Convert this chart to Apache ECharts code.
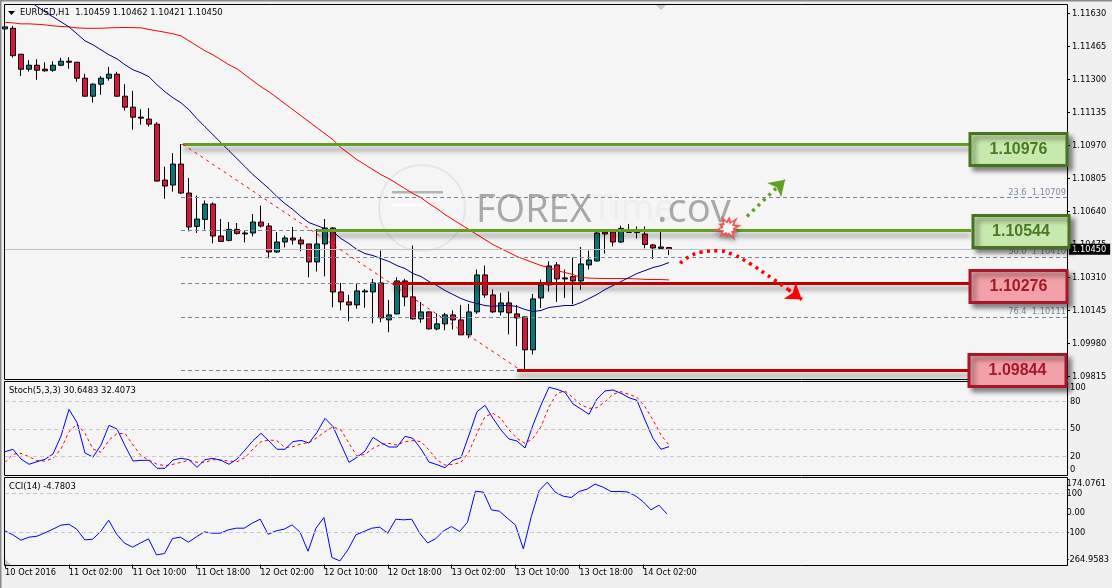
<!DOCTYPE html>
<html>
<head>
<meta charset="utf-8">
<script src="https://cdn.jsdelivr.net/npm/echarts@6/dist/echarts.min.js"></script>
<style>html,body{margin:0;padding:0;background:#f0f0f0}#c{width:1112px;height:588px}</style>
</head>
<body>
<div id="c"></div>
<script>
const timeLabels = ['10 Oct 2016','11 Oct 02:00','11 Oct 10:00','11 Oct 18:00','12 Oct 02:00','12 Oct 10:00','12 Oct 18:00','13 Oct 02:00','13 Oct 10:00','13 Oct 18:00','14 Oct 02:00'];
const priceTicks = [1.11630,1.11465,1.11300,1.11135,1.10970,1.10805,1.10640,1.10475,1.10310,1.10145,1.09980,1.09815];
const opens = [1.11554,1.11557,1.11427,1.11352,1.11372,1.11352,1.11347,1.11372,1.11392,1.11387,1.11307,1.11217,1.11277,1.11307,1.11327,1.11217,1.11162,1.11112,1.11102,1.11077,1.10797,1.10772,1.10877,1.10732,1.10565,1.10600,1.10677,1.10517,1.10495,1.10550,1.10532,1.10532,1.10587,1.10567,1.10437,1.10487,1.10507,1.10497,1.10477,1.10387,1.10477,1.10557,1.10237,1.10187,1.10172,1.10242,1.10237,1.10282,1.10097,1.10127,1.10292,1.10212,1.10102,1.10137,1.10052,1.10077,1.10122,1.10097,1.10022,1.10137,1.10322,1.10222,1.10137,1.10182,1.10127,1.10112,1.09947,1.10207,1.10272,1.10372,1.10307,1.10314,1.10292,1.10372,1.10392,1.10537,1.10537,1.10487,1.10542,1.10540,1.10527,1.10472,1.10462,1.10459];
const closes = [1.11564,1.11420,1.11352,1.11372,1.11347,1.11344,1.11372,1.11392,1.11387,1.11307,1.11217,1.11277,1.11307,1.11327,1.11217,1.11162,1.11112,1.11107,1.11077,1.10792,1.10767,1.10877,1.10732,1.10562,1.10602,1.10677,1.10517,1.10490,1.10550,1.10530,1.10527,1.10587,1.10567,1.10437,1.10487,1.10507,1.10497,1.10477,1.10387,1.10477,1.10557,1.10237,1.10187,1.10172,1.10242,1.10237,1.10282,1.10107,1.10122,1.10292,1.10212,1.10102,1.10137,1.10052,1.10077,1.10122,1.10097,1.10022,1.10137,1.10322,1.10222,1.10137,1.10182,1.10132,1.10107,1.09947,1.10202,1.10272,1.10367,1.10302,1.10302,1.10292,1.10377,1.10397,1.10532,1.10527,1.10487,1.10555,1.10535,1.10534,1.10475,1.10457,1.10455,1.10450];
const lows = [1.11484,1.11410,1.11318,1.11340,1.11299,1.11340,1.11339,1.11367,1.11354,1.11289,1.11215,1.11185,1.11224,1.11295,1.11215,1.11145,1.11049,1.11074,1.11065,1.10790,1.10704,1.10739,1.10727,1.10540,1.10532,1.10549,1.10480,1.10490,1.10490,1.10524,1.10485,1.10515,1.10559,1.10405,1.10432,1.10460,1.10474,1.10440,1.10310,1.10339,1.10315,1.10160,1.10145,1.10090,1.10153,1.10158,1.10080,1.10085,1.10035,1.10124,1.10165,1.10099,1.10082,1.10049,1.10045,1.10045,1.10049,1.10022,1.10005,1.10127,1.10207,1.10132,1.10119,1.10025,1.09965,1.09849,1.09924,1.10157,1.10239,1.10187,1.10207,1.10175,1.10247,1.10349,1.10389,1.10429,1.10465,1.10482,1.10532,1.10504,1.10455,1.10402,1.10452,1.10421];
const highs = [1.11574,1.11569,1.11427,1.11397,1.11402,1.11387,1.11392,1.11409,1.11412,1.11387,1.11329,1.11282,1.11317,1.11364,1.11339,1.11277,1.11244,1.11152,1.11157,1.11087,1.10864,1.10932,1.10977,1.10807,1.10719,1.10695,1.10685,1.10602,1.10587,1.10582,1.10547,1.10627,1.10669,1.10582,1.10537,1.10519,1.10562,1.10512,1.10477,1.10552,1.10602,1.10562,1.10282,1.10222,1.10279,1.10252,1.10302,1.10444,1.10197,1.10310,1.10302,1.10469,1.10187,1.10139,1.10129,1.10132,1.10145,1.10172,1.10177,1.10349,1.10369,1.10249,1.10232,1.10239,1.10172,1.10114,1.10227,1.10299,1.10390,1.10387,1.10349,1.10409,1.10462,1.10444,1.10539,1.10549,1.10549,1.10569,1.10577,1.10565,1.10565,1.10477,1.10544,1.10462];
const maSlow = [1.11587,1.11584,1.11579,1.11579,1.11577,1.11574,1.11569,1.11566,1.11564,1.11559,1.11557,1.11557,1.11557,1.11559,1.11560,1.11561,1.11560,1.11559,1.11551,1.11544,1.11537,1.11529,1.11519,1.11494,1.11469,1.11444,1.11424,1.11399,1.11374,1.11354,1.11324,1.11294,1.11264,1.11239,1.11209,1.11179,1.11149,1.11119,1.11089,1.11059,1.11029,1.10999,1.10959,1.10929,1.10899,1.10874,1.10849,1.10824,1.10804,1.10779,1.10754,1.10729,1.10709,1.10679,1.10654,1.10624,1.10599,1.10574,1.10549,1.10524,1.10499,1.10474,1.10454,1.10434,1.10414,1.10399,1.10384,1.10369,1.10359,1.10344,1.10334,1.10324,1.10309,1.10306,1.10305,1.10304,1.10304,1.10304,1.10304,1.10302,1.10300,1.10299,1.10299,1.10297];
const maFast = [1.11779,1.11754,1.11724,1.11694,1.11666,1.11639,1.11614,1.11589,1.11564,1.11529,1.11494,1.11474,1.11449,1.11424,1.11404,1.11374,1.11349,1.11334,1.11314,1.11274,1.11239,1.11209,1.11184,1.11149,1.11104,1.11064,1.11024,1.10984,1.10944,1.10904,1.10864,1.10824,1.10789,1.10754,1.10714,1.10679,1.10649,1.10614,1.10584,1.10569,1.10554,1.10539,1.10504,1.10479,1.10449,1.10429,1.10419,1.10404,1.10389,1.10369,1.10354,1.10329,1.10314,1.10289,1.10269,1.10244,1.10224,1.10204,1.10189,1.10179,1.10169,1.10164,1.10169,1.10169,1.10164,1.10149,1.10139,1.10144,1.10159,1.10164,1.10169,1.10169,1.10184,1.10204,1.10224,1.10249,1.10269,1.10289,1.10309,1.10329,1.10344,1.10359,1.10369,1.10384];
const stochK = [25.1,27.7,17.0,11.2,14.1,16.7,22.5,42.3,71.6,57.0,23.6,19.2,32.4,54.0,50.0,31.7,14.8,15.6,15.6,6.8,6.8,15.9,17.8,16.3,7.9,16.3,17.8,15.6,11.2,17.0,26.9,37.2,45.2,36.8,27.7,27.7,36.1,37.5,34.6,46.3,61.7,52.6,33.1,13.4,18.9,25.8,40.8,35.0,30.2,30.2,41.9,39.7,28.0,13.7,10.8,7.5,15.6,18.5,43.4,69.0,76.0,61.7,48.9,39.0,36.8,29.1,54.4,76.4,95.8,93.6,90.3,77.5,72.0,66.1,83.0,91.8,92.9,89.2,84.4,81.5,59.9,39.7,27.7,30.6];
const stochD = [13.4,22.2,23.3,19.6,15.2,14.8,17.8,28.0,47.1,55.5,45.2,28.0,24.4,37.9,44.9,45.2,32.4,20.7,15.9,11.2,9.7,11.2,13.4,15.6,13.4,13.4,16.3,15.9,14.8,14.1,18.5,28.0,36.1,37.9,37.2,29.5,30.6,33.5,35.0,40.5,47.1,52.6,48.9,34.2,20.3,22.2,28.8,33.1,34.2,32.4,36.1,37.2,36.1,26.9,15.9,10.4,11.2,13.4,25.1,45.2,63.6,67.2,61.7,48.9,39.7,34.2,39.7,52.6,74.5,89.2,91.8,84.4,76.4,72.7,73.4,80.0,88.1,91.0,88.1,84.8,74.5,59.9,43.4,32.4];
const cci = [-92.1,-112.6,-140,-124.6,-119.5,-102.4,-83.6,-63,-57.9,-83.6,-138.3,-134.8,-95.5,-37.4,-109.2,-155.3,-175.8,-153.6,-133.1,-215.2,-208.3,-131.4,-124.6,-150.2,-122.9,-97.2,-104.1,-104.1,-87,-78.4,-78.4,-52.8,-32.3,-109.2,-92.1,-83.6,-61.4,-98.9,-196.4,-78.4,-23.8,-228.8,-245.9,-189.5,-112.6,-95.5,-78.4,-73.3,-104.1,-32.3,-35.7,-32.3,-104.1,-153.6,-133.1,-92.1,-69.9,-95.5,-47.7,111.3,106.1,15.5,8.7,-27.2,-61.4,-184.4,-18.6,114.7,157.4,106.1,85.6,78.8,109.6,121.5,147.2,131.8,109.6,109.6,107.8,89,58.3,15.5,39.5,-4.78];
const fibPrices = [1.10976,1.10709,1.10544,1.10410,1.10280,1.10111,1.09844];
const fibLabels = ['','23.6  1.10709','','50.0  1.10410','','76.4  1.10111',''];
const fibStartBar = 22;
const levelPrices = [1.10976,1.10544,1.10280,1.09844];
const levelStartBars = [22.25,39,48.5,64];
const levelColors = ['#62a024','#62a024','#c00000','#c00000'];
const levelTexts = ['1.10976','1.10544','1.10276','1.09844'];
const currentPrice = 1.10450;
const arcBars = [84.4,85.6,87.1,89.1,91,93.1,95.8,97.9];
const arcPrices = [1.10380,1.10415,1.10437,1.10443,1.10424,1.10379,1.10307,1.10249];
const arcHead = [99.6,1.10199];
const greenArrow = [[92.75,1.10615],[97.5,1.10799]];
const fibDiag = [[22.25,1.10976],[64.5,1.09844]];

const FONT = 'DejaVu Sans Condensed, Liberation Sans';
const axisFont = {fontFamily:FONT,fontSize:9.2,color:'#000'};
const XMAX = 132.75;
const bars = opens.map((o,i)=>[i,o,closes[i],lows[i],highs[i]]);
const xy = a => a.map((v,i)=>[i,v]);
const noLabelX = g => ({type:'value',gridIndex:g,min:0,max:XMAX,show:false,axisLine:{onZero:false}});

function burst(cx,cy,ro,ri,n){
  const pts=[];
  const spikes=[1,.78,1.05,.72,.95,1.1,.75,1,.85,1.05];
  for(let k=0;k<n*2;k++){
    const a=Math.PI*k/n-0.2, r=k%2?ri:ro*spikes[(k/2|0)%spikes.length];
    pts.push([cx+r*Math.cos(a),cy+r*Math.sin(a)]);
  }
  return pts;
}

const boxes = [
 {x:970,y:133.5,w:97,h:32,fill:'#c8e9ad',stroke:'#46731f',text:'#4a7a25'},
 {x:973,y:215.5,w:96,h:32,fill:'#c8e9ad',stroke:'#46731f',text:'#4a7a25'},
 {x:970,y:270.5,w:97,h:32,fill:'#f2a1a8',stroke:'#a4182a',text:'#a4182a'},
 {x:969,y:354.5,w:97,h:32,fill:'#f2a1a8',stroke:'#a4182a',text:'#a4182a'}
];
const graphics = [
 {type:'rect',shape:{x:0,y:0,width:1112,height:1.5},style:{fill:'#8a8a8a'},z:-3,silent:true},
 {type:'rect',shape:{x:0,y:0,width:1.5,height:588},style:{fill:'#8a8a8a'},z:-3,silent:true},
 {type:'rect',shape:{x:4.5,y:4.5,width:1063,height:375},style:{fill:'#f5f5f5',stroke:'#000',lineWidth:1},z:-2,silent:true},
 {type:'rect',shape:{x:4.5,y:381.5,width:1063,height:94},style:{fill:'#f5f5f5',stroke:'#000',lineWidth:1},z:-2,silent:true},
 {type:'rect',shape:{x:4.5,y:477.5,width:1063,height:88},style:{fill:'#f5f5f5',stroke:'#000',lineWidth:1},z:-2,silent:true},
 {type:'polygon',shape:{points:[[8,11],[15,11],[11.5,15]]},style:{fill:'#000'},z:60,silent:true},
 {type:'polygon',shape:{points:[[656,5],[666,5],[661,10]]},style:{fill:'#c8c8c8'},z:-1,silent:true},
 {type:'polygon',shape:{points:[[5,559],[5,565],[11,565]]},style:{fill:'#c4c4c4'},z:-1,silent:true},
 {type:'circle',shape:{cx:422,cy:208,r:43},style:{fill:'none',stroke:'#e6e6e6',lineWidth:2},z:-1,silent:true},
 {type:'rect',shape:{x:392,y:191,width:51,height:2.5},style:{fill:'#b4b4b4'},z:-1,silent:true},
 {type:'rect',shape:{x:392,y:204,width:40,height:2.5},style:{fill:'#ffffff'},z:-1,silent:true},
 {type:'text',x:476,y:192,style:{text:'FOREX',fontFamily:'Open Sans',fontSize:38,fill:'#a8a8a8',textAlign:'left',textVerticalAlign:'top'},z:-1,silent:true},
 {type:'text',x:592,y:192,style:{text:'Time',fontFamily:'Open Sans',fontSize:36,fill:'#eeeeee',textAlign:'left',textVerticalAlign:'top'},z:-1,silent:true},
 {type:'text',x:657,y:191,style:{text:'.cov',fontFamily:'Open Sans',fontSize:40,fill:'#a8a8a8',textAlign:'left',textVerticalAlign:'top'},z:-1,silent:true},
 {type:'polygon',shape:{points:burst(728,228,14,7,10)},style:{fill:'#f25555',shadowBlur:4,shadowColor:'rgba(0,0,0,.35)',shadowOffsetY:3},z:40,silent:true},
 {type:'polygon',shape:{points:burst(728,228,8,4.5,10)},style:{fill:'#ffffff'},z:41,silent:true}
];
boxes.forEach((b,i)=>{
  graphics.push({type:'rect',shape:{x:b.x,y:b.y,width:b.w,height:b.h},
    style:{fill:b.fill,stroke:b.stroke,lineWidth:3,shadowBlur:5,shadowOffsetX:4,shadowOffsetY:4,shadowColor:'rgba(0,0,0,.45)'},z:50,silent:true});
  graphics.push({type:'text',x:b.x+b.w/2,y:b.y+b.h/2,
    style:{text:levelTexts[i],fontFamily:'Liberation Sans',fontWeight:'bold',fontSize:16,fill:b.text,textAlign:'center',textVerticalAlign:'middle'},z:51,silent:true});
});
const titleStyle = {fontFamily:FONT,fontSize:9.4,fontWeight:'normal',color:'#000'};
const option = {
  animation:false,
  backgroundColor:'#f0f0f0',
  textStyle:{fontFamily:FONT},
  title:[
    {text:'EURUSD,H1  1.10459 1.10462 1.10421 1.10450',left:20,top:8,padding:0,textStyle:titleStyle},
    {text:'Stoch(5,3,3) 30.6483 32.4073',left:9,top:386,padding:0,textStyle:titleStyle},
    {text:'CCI(14) -4.7803',left:9,top:482,padding:0,textStyle:titleStyle}
  ],
  graphic:{elements:graphics},
  grid:[
    {left:5,top:4.5,width:1062,height:375},
    {left:5,top:383.5,width:1062,height:91},
    {left:5,top:478.9,width:1062,height:85.7}
  ],
  xAxis:[
    noLabelX(0),noLabelX(1),
    {type:'value',gridIndex:2,min:0,max:XMAX,
      axisLine:{show:false,onZero:false},splitLine:{show:false},
      axisTick:{show:true,length:4,customValues:timeLabels.map((_,i)=>i*8),lineStyle:{color:'#000'}},
      axisLabel:{customValues:timeLabels.map((_,i)=>i*8),formatter:v=>timeLabels[v/8],align:'left',margin:4,...axisFont}}
  ],
  yAxis:[
    {type:'value',gridIndex:0,position:'right',min:1.097985,max:1.116760,scale:true,
      axisLine:{show:false,onZero:false},splitLine:{show:false},
      axisTick:{show:true,length:3,customValues:priceTicks,lineStyle:{color:'#000'}},
      axisLabel:{customValues:priceTicks,formatter:v=>v.toFixed(5),margin:5,...axisFont}},
    {type:'value',gridIndex:1,position:'right',min:0,max:100,
      axisLine:{show:false,onZero:false},splitLine:{show:false},
      axisTick:{show:false},
      axisLabel:{customValues:[0,20,50,80,100],formatter:v=>String(v),margin:3,showMinLabel:true,showMaxLabel:true,verticalAlignMinLabel:'bottom',verticalAlignMaxLabel:'top',...axisFont}},
    {type:'value',gridIndex:2,position:'right',min:-264.9583,max:174.0761,
      axisLine:{show:false,onZero:false},splitLine:{show:false},
      axisTick:{show:false},
      axisLabel:{customValues:[-264.9583,-100,0,100,174.0761],formatter:v=>v===0?'0.00':(v===100||v===-100?String(v):v.toFixed(4)),margin:3,showMinLabel:true,showMaxLabel:true,hideOverlap:false,verticalAlignMinLabel:'bottom',verticalAlignMaxLabel:'top',...axisFont}}
  ],
  series:[
    {name:'Fib',type:'line',xAxisIndex:0,yAxisIndex:0,data:[],z:1,silent:true,
      markLine:{silent:true,symbol:'none',animation:false,
        data:fibPrices.map((p,i)=>[
          {coord:[fibStartBar,p],label:{show:!!fibLabels[i],formatter:fibLabels[i],position:'insideEndTop',distance:[1,1],color:'#7d8a9c',fontFamily:FONT,fontSize:9.2},lineStyle:{color:'#77869c',type:[4,3],width:1}},
          {coord:[XMAX,p]}
        ]).concat([[
          {coord:[0,currentPrice],label:{show:true,formatter:currentPrice.toFixed(5),position:'end',distance:2,backgroundColor:'#000',color:'#fff',padding:[1,4,1,3],fontFamily:FONT,fontSize:9.2},lineStyle:{color:'#c0c0c0',type:'solid',width:1}},
          {coord:[XMAX,currentPrice]}
        ]])}},
    {name:'EURUSD',type:'candlestick',xAxisIndex:0,yAxisIndex:0,data:bars,barWidth:5,z:2,silent:true,
      itemStyle:{color:'#007b7b',color0:'#dc143c',borderColor:'#000',borderColor0:'#000',borderColorDoji:'#000',borderWidth:1}},
    {name:'MA slow',type:'line',xAxisIndex:0,yAxisIndex:0,data:xy(maSlow),showSymbol:false,z:3,silent:true,lineStyle:{color:'#ff0000',width:1}},
    {name:'MA fast',type:'line',xAxisIndex:0,yAxisIndex:0,data:xy(maFast),showSymbol:false,z:3,silent:true,lineStyle:{color:'#000080',width:1}},
    {name:'Levels',type:'line',xAxisIndex:0,yAxisIndex:0,data:[],z:4,silent:true,
      markLine:{silent:true,symbol:'none',animation:false,label:{show:false},
        data:levelPrices.map((p,i)=>[
          {coord:[levelStartBars[i],p],lineStyle:{color:levelColors[i],type:'solid',width:3,shadowColor:'rgba(0,0,0,.4)',shadowBlur:5,shadowOffsetY:5}},
          {coord:[XMAX-12,p]}
        ]).concat([[
          {coord:fibDiag[0],lineStyle:{color:'#ff0000',type:[3,4],width:1,shadowBlur:0}},
          {coord:fibDiag[1]}
        ]])}},
    {name:'Arc',type:'line',xAxisIndex:0,yAxisIndex:0,data:arcBars.map((b,i)=>[b,arcPrices[i]]),smooth:true,showSymbol:false,z:6,silent:true,
      lineStyle:{color:'#ff0000',type:[3,4.5],width:3.5},
      markLine:{silent:true,animation:false,label:{show:false},symbol:['none','arrow'],symbolSize:15,
        data:[[
          {coord:[arcBars[arcBars.length-1],arcPrices[arcPrices.length-1]],lineStyle:{color:'#ff0000',type:[3,4.5],width:3.5}},
          {coord:arcHead}
        ]]}},
    {name:'Up',type:'line',xAxisIndex:0,yAxisIndex:0,data:[],z:6,silent:true,
      markLine:{silent:true,animation:false,label:{show:false},symbol:['none','arrow'],symbolSize:15,
        data:[[
          {coord:greenArrow[0],lineStyle:{color:'#62a024',type:[3,4.5],width:3.5}},
          {coord:greenArrow[1]}
        ]]}},
    {name:'Stoch K',type:'line',xAxisIndex:1,yAxisIndex:1,data:xy(stochK),showSymbol:false,z:4,silent:true,lineStyle:{color:'#0000ff',width:1},
      markLine:{silent:true,symbol:'none',animation:false,label:{show:false},lineStyle:{color:'#c8c8c8',type:[4,3],width:1},data:[{yAxis:80},{yAxis:50},{yAxis:20}]}},
    {name:'Stoch D',type:'line',xAxisIndex:1,yAxisIndex:1,data:xy(stochD),showSymbol:false,z:3,silent:true,lineStyle:{color:'#ff0000',type:[3,3],width:1}},
    {name:'CCI',type:'line',xAxisIndex:2,yAxisIndex:2,data:xy(cci),showSymbol:false,z:3,silent:true,lineStyle:{color:'#0000ff',width:1},
      markLine:{silent:true,symbol:'none',animation:false,label:{show:false},lineStyle:{color:'#c8c8c8',type:[4,3],width:1},data:[{yAxis:100},{yAxis:-100}]}}
  ]
};
const chart = echarts.init(document.getElementById('c'),null,{renderer:'canvas'});
chart.setOption(option);
</script>
</body>
</html>
